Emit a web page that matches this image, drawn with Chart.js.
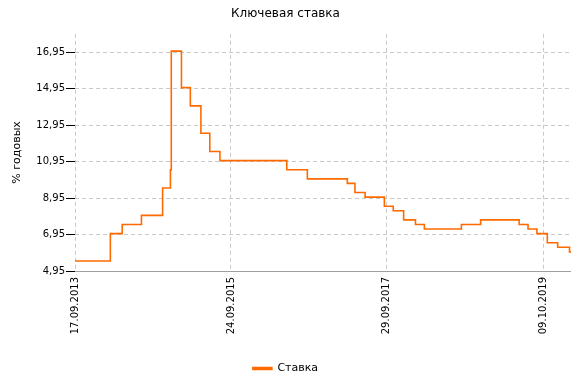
<!DOCTYPE html>
<html>
<head>
<meta charset="utf-8">
<script src="https://cdn.jsdelivr.net/npm/chart.js@4"></script>
<style>
  html, body { margin: 0; padding: 0; background: #fff; }
  #wrap { width: 571px; height: 384px; }
</style>
</head>
<body>
<div id="wrap"><canvas id="rateChart"></canvas></div>
<script>
// Key rate: date of each change and the new rate (last point = end of series)
const changeDates = [
    '17.09.2013', '03.03.2014', '28.04.2014', '28.07.2014', '05.11.2014',
    '12.12.2014', '16.12.2014', '02.02.2015', '16.03.2015', '05.05.2015',
    '16.06.2015', '03.08.2015', '14.06.2016', '19.09.2016', '27.03.2017',
    '02.05.2017', '19.06.2017', '18.09.2017', '30.10.2017', '18.12.2017',
    '12.02.2018', '26.03.2018', '17.09.2018', '17.12.2018', '17.06.2019',
    '29.07.2019', '09.09.2019', '28.10.2019', '16.12.2019', '10.02.2020',
    '17.02.2020',
];
const rates = [
    5.5, 7.0, 7.5, 8.0, 9.5,
    10.5, 17.0, 15.0, 14.0, 12.5,
    11.5, 11.0, 10.5, 10.0, 9.75,
    9.25, 9.0, 8.5, 8.25, 7.75,
    7.5, 7.25, 7.5, 7.75, 7.5,
    7.25, 7.0, 6.5, 6.25, 6.0,
    6.0,
];
const xTickDates = ['17.09.2013', '24.09.2015', '29.09.2017', '09.10.2019'];
const yTicks = [4.95, 6.95, 8.95, 10.95, 12.95, 14.95, 16.95];

const LINE = '#ff6a00';
const GRID = '#c9c9c9';
const FONT = 'DejaVu Sans';

function toDay(s) {
    const [d, m, y] = s.split('.').map(Number);
    return Date.UTC(y, m - 1, d) / 86400000;
}
function fmtDay(v) {
    const dt = new Date(v * 86400000);
    const p = n => String(n).padStart(2, '0');
    return `${p(dt.getUTCDate())}.${p(dt.getUTCMonth() + 1)}.${dt.getUTCFullYear()}`;
}

const points = changeDates.map((d, i) => ({ x: toDay(d), y: rates[i] }));

new Chart(document.getElementById('rateChart'), {
    type: 'line',
    data: {
        datasets: [{
            label: 'Ставка',
            data: points,
            stepped: true,
            borderColor: LINE,
            backgroundColor: LINE,
            borderWidth: 1.6,
            pointRadius: 0,
            fill: false,
        }],
    },
    options: {
        responsive: true,
        maintainAspectRatio: false,
        animation: false,
        layout: { padding: 0 },
        plugins: {
            title: {
                display: true,
                text: 'Ключевая ставка',
                color: '#000',
                font: { family: FONT, size: 12, weight: 'normal' },
                padding: { top: 7, bottom: 12.4 },
            },
            legend: {
                position: 'bottom',
                labels: {
                    color: '#000',
                    font: { family: FONT, size: 11 },
                    boxWidth: 19,
                    boxHeight: 2,
                    padding: 8,
                },
            },
            tooltip: { enabled: false },
        },
        scales: {
            x: {
                type: 'linear',
                min: toDay(changeDates[0]),
                max: toDay(changeDates[changeDates.length - 1]),
                afterBuildTicks(axis) {
                    axis.ticks = xTickDates.map(d => ({ value: toDay(d) }));
                },
                afterFit(axis) { axis.height = 84; },
                ticks: {
                    color: '#000',
                    font: { family: FONT, size: 10 },
                    minRotation: 90,
                    maxRotation: 90,
                    autoSkip: false,
                    padding: 6,
                    callback: v => fmtDay(v),
                },
                grid: { color: GRID, drawTicks: false },
                border: { display: true, color: '#a0a0a0', width: 1, dash: [4, 3] },
            },
            y: {
                min: 4.95,
                max: 17.95,
                afterBuildTicks(axis) {
                    axis.ticks = yTicks.map(v => ({ value: v }));
                },
                afterFit(axis) { axis.width = 75; },
                ticks: {
                    color: '#000',
                    font: { family: FONT, size: 10 },
                    padding: 1,
                    callback: v => v.toFixed(2).replace('.', ','),
                },
                grid: {
                    color: GRID,
                    tickColor: '#000',
                    tickLength: 9,
                    tickBorderDash: [],
                },
                border: { display: false, dash: [4, 3] },
                title: {
                    display: true,
                    text: '% годовых',
                    color: '#000',
                    font: { family: FONT, size: 11 },
                    padding: { top: 11, bottom: 0 },
                },
            },
        },
    },
});
</script>
</body>
</html>
